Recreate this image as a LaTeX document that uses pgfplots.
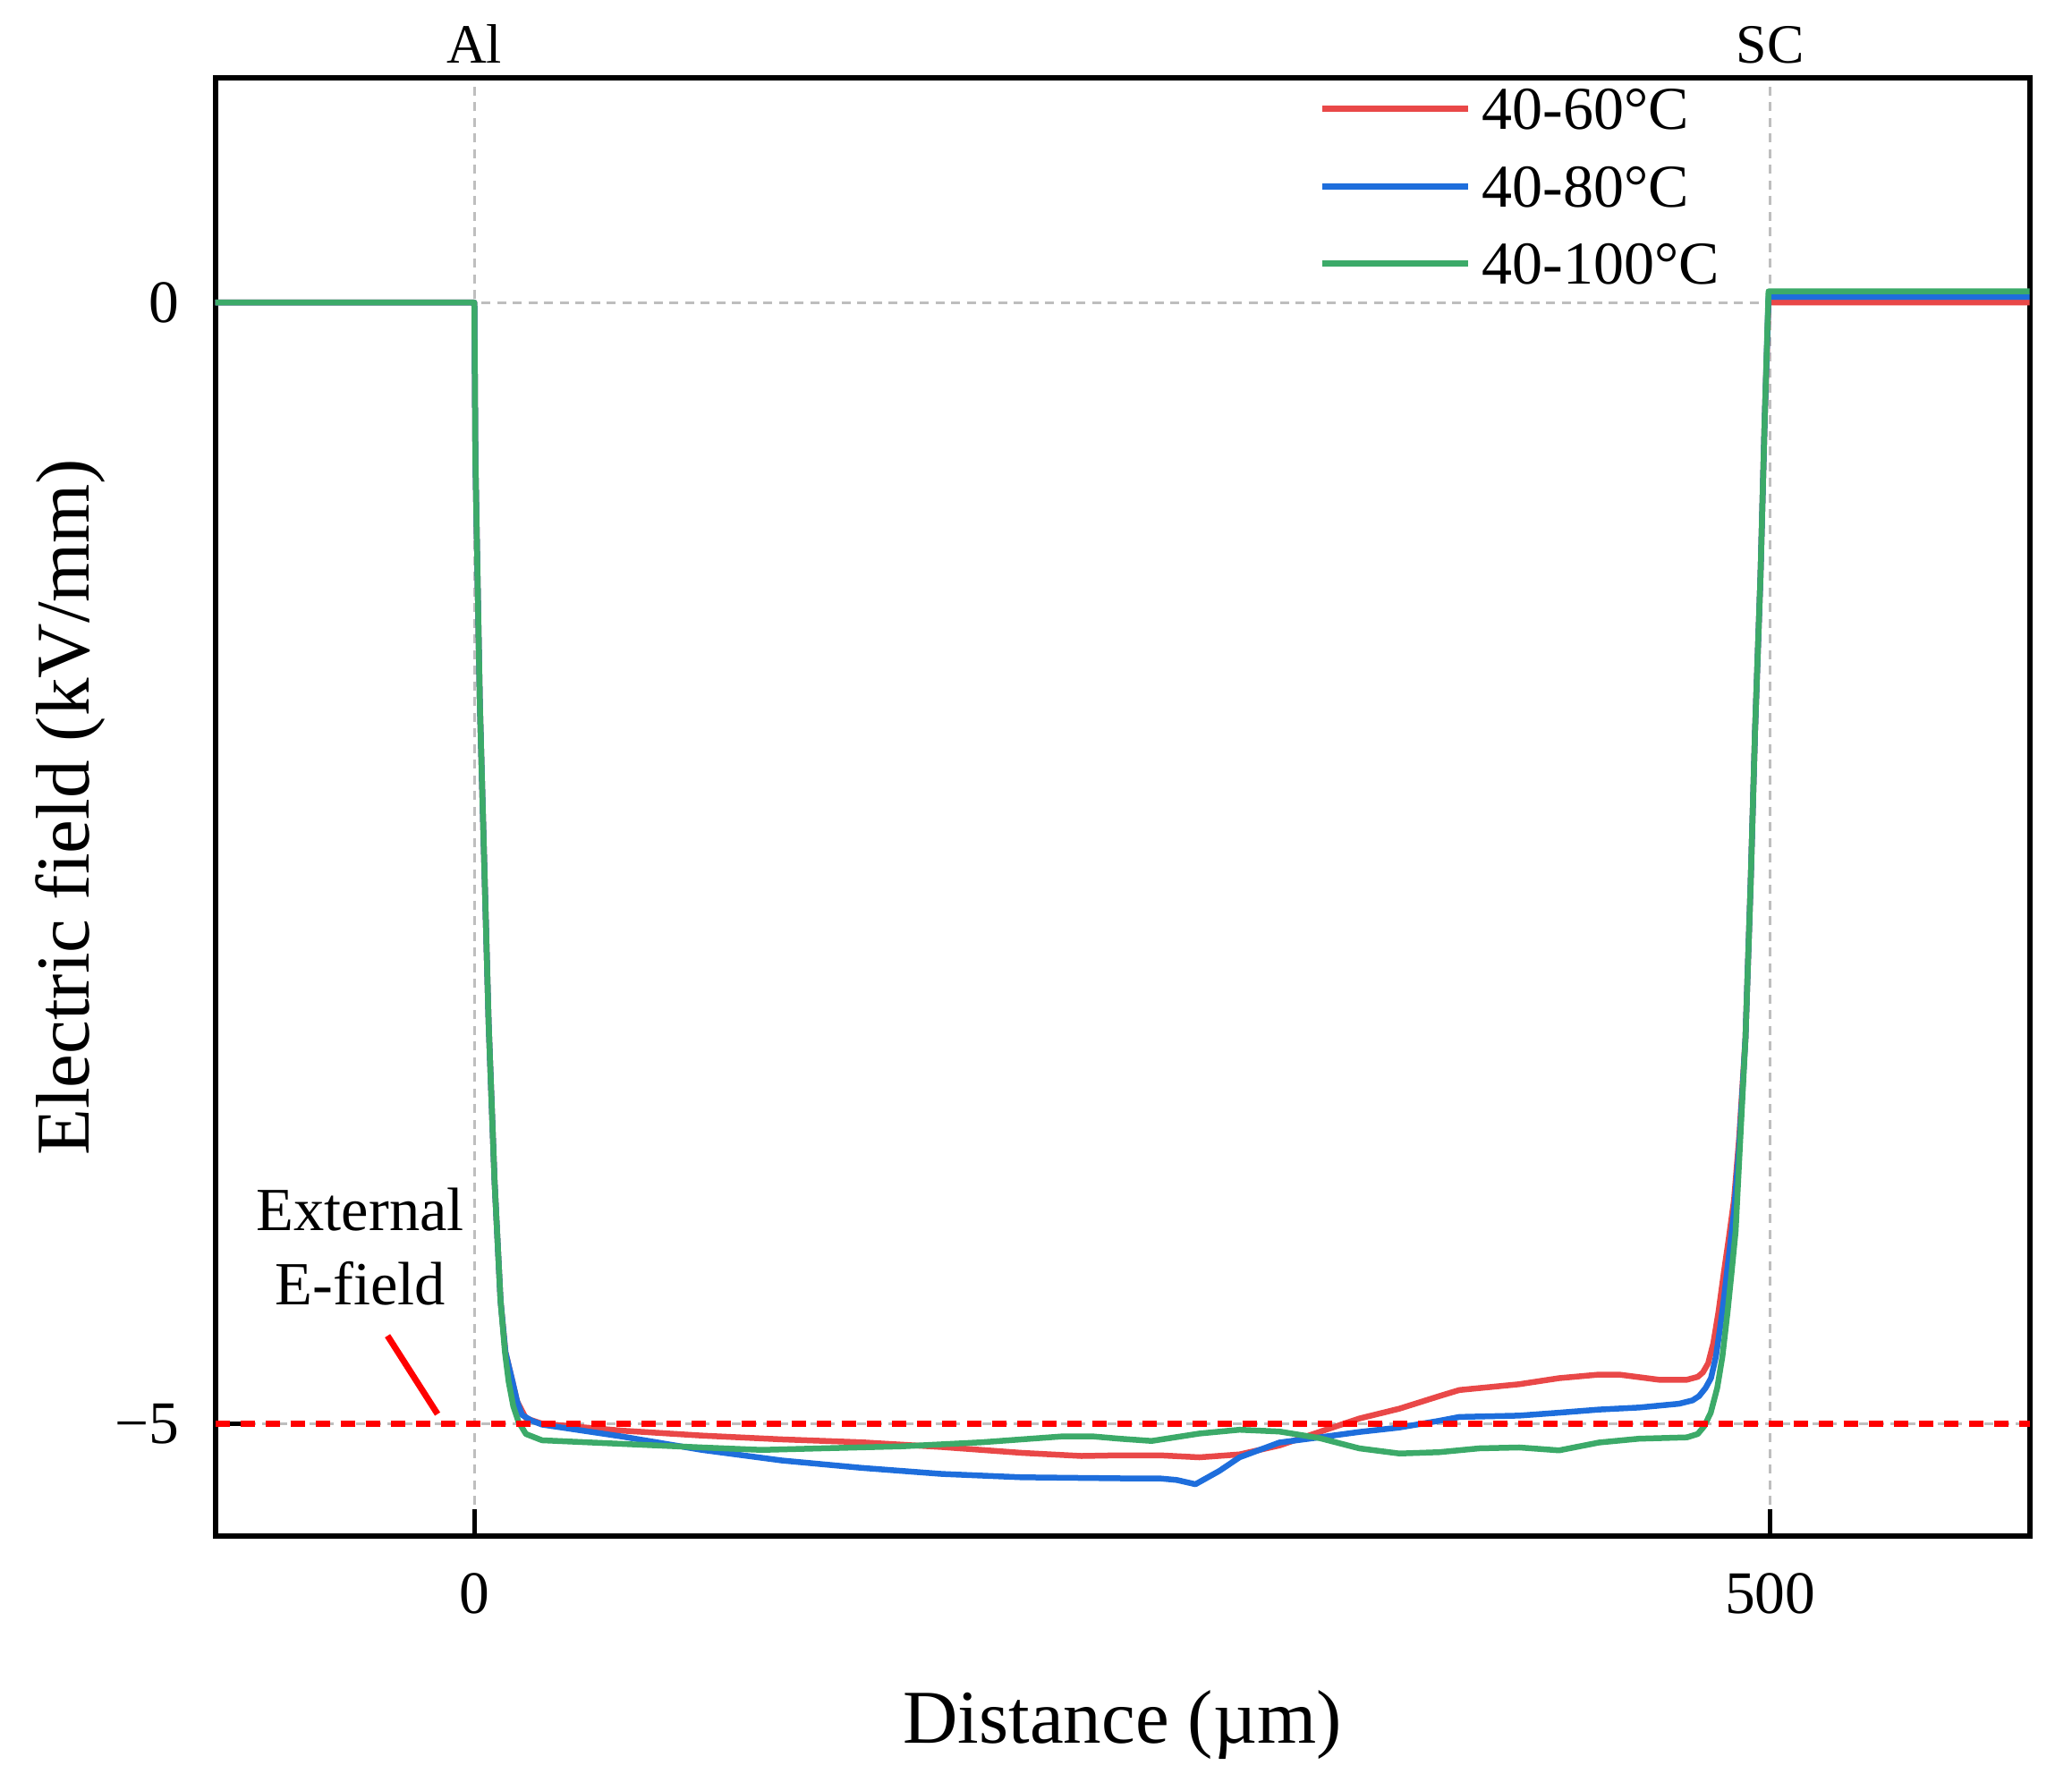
\documentclass[border=0pt]{standalone}
\usepackage{fontspec}
\setmainfont{Liberation Serif}
\usepackage{pgfplots}
\pgfplotsset{compat=1.18}
\definecolor{cR}{RGB}{233,72,72}
\definecolor{cB}{RGB}{30,110,220}
\definecolor{cG}{RGB}{60,170,105}
\definecolor{gridgray}{RGB}{190,190,190}
\begin{document}
\begin{tikzpicture}
\begin{axis}[
  scale only axis, width=405.6pt, height=325.9pt,
  xmin=-100, xmax=600, ymin=-5.5, ymax=1,
  clip=false,
  xtick={0,500}, xticklabels={0,500},
  ytick={-5,0}, yticklabels={−5,0},
  tick align=inside, xtick pos=bottom, ytick pos=left,
  major tick length=6pt,
  major tick style={black, line width=1pt},
  axis line style={black, line width=1.2pt},
  grid=major,
  major grid style={gridgray, line width=0.6pt, dash pattern=on 2pt off 1.5pt},
  ticklabel style={font=\fontsize{13.5pt}{16pt}\selectfont},
  xticklabel style={anchor=north, inner sep=0pt, yshift=-8.2pt},
  yticklabel style={anchor=east, inner sep=0pt, xshift=-7.9pt},
  xlabel={Distance (µm)}, ylabel={Electric field (kV/mm)},
  label style={font=\fontsize{17pt}{20pt}\selectfont, inner sep=0pt},
  x label style={at={([yshift=-46.3pt]axis description cs:0.5,0)}, anchor=base},
  y label style={at={([xshift=-28.2pt]axis description cs:0,0.5)}, anchor=base},
  legend style={draw=none, fill=none, inner sep=0pt, outer sep=0pt,
    at={(0.6086,0.993)}, anchor=north west, row sep=8.1pt, column sep=2.5pt,
    font=\fontsize{13.6pt}{16pt}\selectfont,
    nodes={inner sep=0pt, text height=9.2pt, text depth=0pt}},
  legend cell align=left,
  legend image code/.code={\draw[#1, line width=1.4pt] (0pt,0pt) -- (32.5pt,0pt);},
]
\coordinate (SW) at (rel axis cs:0,0);
\coordinate (NE) at (rel axis cs:1,1);

\addplot[cR, line width=1.3pt, line join=round] coordinates {
(-100,0)(0,0)(0.4,-0.7)(2.1,-1.78)(5.5,-3.21)(7.8,-3.92)(10.1,-4.45)(12,-4.68)(14.7,-4.81)(16.5,-4.9)(19.9,-4.975)(26.1,-4.999)(56.9,-5.030)(87.8,-5.052)(118.6,-5.069)(149.4,-5.082)(180.3,-5.103)(211.1,-5.129)(234.2,-5.143)(249,-5.140)(264.4,-5.140)(279.7,-5.149)(295.2,-5.136)(310.6,-5.096)(326,-5.036)(341.4,-4.976)(356.9,-4.932)(372.3,-4.876)(380,-4.849)(403.1,-4.823)(418.5,-4.796)(433.9,-4.780)(441.6,-4.780)(457,-4.803)(467.8,-4.803)(472,-4.79)(474,-4.770)(476,-4.73)(478,-4.64)(480,-4.50)(482,-4.33)(484,-4.17)(486,-4.0)(488,-3.72)(490.4,-3.28)(492.4,-2.59)(494.1,-1.91)(496.2,-1.22)(497.8,-0.53)(499.3,0)(600,0)
};
\addplot[cB, line width=1.3pt, line join=round] coordinates {
(-100,0)(0,0)(0.4,-0.7)(2.1,-1.78)(5.5,-3.21)(7.8,-3.92)(10.1,-4.45)(12,-4.68)(14.7,-4.81)(16.5,-4.9)(18.4,-4.96)(22,-4.985)(26.1,-5.003)(56.9,-5.056)(87.8,-5.116)(118.6,-5.163)(149.4,-5.196)(180.3,-5.223)(211.1,-5.238)(252,-5.243)(264.4,-5.243)(271,-5.25)(278.2,-5.269)(287.5,-5.209)(295.2,-5.149)(310.6,-5.083)(326,-5.060)(341.4,-5.036)(356.9,-5.016)(372.3,-4.986)(380,-4.969)(403.1,-4.963)(418.5,-4.950)(433.9,-4.936)(449.3,-4.927)(464.8,-4.910)(470,-4.895)(472.5,-4.876)(475,-4.84)(477.1,-4.796)(479,-4.70)(480.5,-4.58)(482,-4.45)(484,-4.25)(486,-4.05)(488,-3.76)(490.4,-3.28)(492.4,-2.59)(494.1,-1.91)(496.2,-1.22)(497.8,-0.53)(499.3,0.025)(600,0.025)
};
\addplot[cG, line width=1.3pt, line join=round] coordinates {
(-100,0)(0,0)(0.4,-0.7)(2.1,-1.78)(5.5,-3.21)(7.8,-3.92)(10.1,-4.45)(11.8,-4.68)(13.2,-4.81)(15,-4.92)(17,-4.99)(19.9,-5.045)(26.1,-5.073)(56.9,-5.089)(87.8,-5.105)(110.9,-5.116)(134,-5.109)(164.9,-5.1)(195.7,-5.082)(226.5,-5.056)(238.9,-5.056)(249,-5.066)(261.3,-5.076)(279.7,-5.043)(295.2,-5.026)(310.6,-5.034)(326,-5.063)(341.4,-5.109)(356.9,-5.132)(372.3,-5.126)(387.7,-5.109)(403.1,-5.105)(418.5,-5.118)(433.9,-5.083)(449.3,-5.066)(467.8,-5.060)(472,-5.045)(474.5,-5.01)(477,-4.95)(479.5,-4.84)(481.5,-4.70)(483.5,-4.50)(485,-4.33)(486.6,-4.142)(488.1,-3.798)(490.4,-3.282)(492.4,-2.594)(494.1,-1.906)(496.2,-1.218)(497.8,-0.530)(499.3,0.05)(600,0.05)
};
\legend{40-60°C,40-80°C,40-100°C}

\addplot[red, line width=1.3pt, dash pattern=on 3.2pt off 2.4pt, forget plot] coordinates {(-100,-5) (600,-5)};

\draw[red, line width=1.4pt] (axis cs:-33.5,-4.607) -- (axis cs:-14.2,-4.956);
\node[anchor=base, inner sep=0pt, font=\fontsize{13.7pt}{16pt}\selectfont] at (axis cs:-44,-4.139) {External};
\node[anchor=base, inner sep=0pt, font=\fontsize{13.7pt}{16pt}\selectfont] at (axis cs:-44,-4.469) {E-field};
\node[anchor=base, inner sep=0pt, font=\fontsize{12.4pt}{15pt}\selectfont] at ([yshift=3.3pt]axis cs:0,1) {Al};
\node[anchor=base, inner sep=0pt, font=\fontsize{12.4pt}{15pt}\selectfont] at ([yshift=3.3pt]axis cs:500,1) {SC};
\end{axis}
\pgfresetboundingbox
\path ([shift={(-48.1pt,-56.9pt)}]SW) rectangle ([shift={(9.5pt,17.5pt)}]NE);
\end{tikzpicture}
\end{document}
